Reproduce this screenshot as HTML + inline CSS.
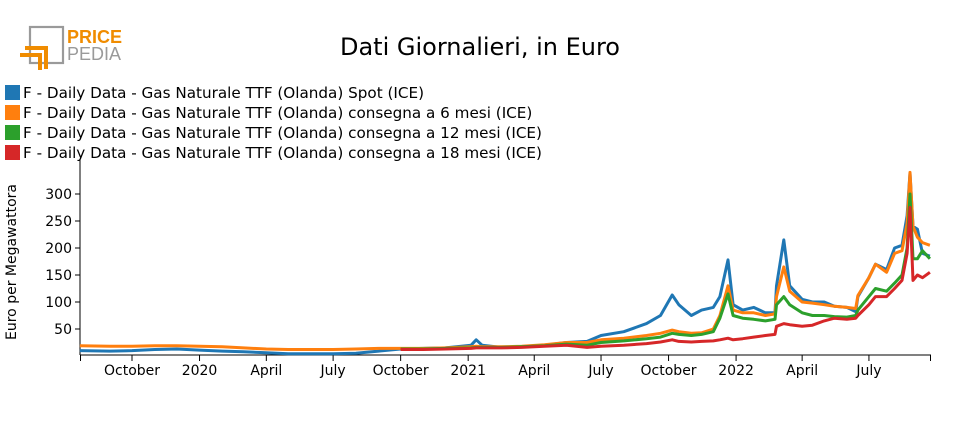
<!DOCTYPE html>
<html><head><meta charset="utf-8">
<style>
body{margin:0;background:#fff;width:960px;height:430px;overflow:hidden;font-family:"DejaVu Sans","Liberation Sans",sans-serif}
svg{display:block}
</style></head><body>
<svg id="chart" width="960" height="430">
<g>
<rect x="30" y="27" width="33" height="36" fill="none" stroke="#9a9a9a" stroke-width="2.2"/>
<path d="M25 48 H46 V69" fill="none" stroke="#f08c00" stroke-width="4"/>
<path d="M20 55 H40 V70" fill="none" stroke="#f08c00" stroke-width="4"/>
<text x="67" y="43" font-size="18" font-weight="bold" fill="#f08c00" font-family="Liberation Sans, sans-serif">PRICE</text>
<text x="67" y="60" font-size="18" fill="#9a9a9a" font-family="Liberation Sans, sans-serif">PEDIA</text>
</g>
<text x="480" y="55" font-size="24" text-anchor="middle" fill="#000">Dati Giornalieri, in Euro</text>
<g id="legend"></g>
<text transform="translate(16,262) rotate(-90)" font-size="14" text-anchor="middle">Euro per Megawattora</text>
<g id="axes"></g>
<g id="lines"></g>
</svg>
<script>
const seriesNames=["F - Daily Data - Gas Naturale TTF (Olanda) Spot (ICE)","F - Daily Data - Gas Naturale TTF (Olanda) consegna a 6 mesi (ICE)","F - Daily Data - Gas Naturale TTF (Olanda) consegna a 12 mesi (ICE)","F - Daily Data - Gas Naturale TTF (Olanda) consegna a 18 mesi (ICE)"];
const colors=["#1f77b4","#ff7f0e","#2ca02c","#d62728"];
const dates=["2019-07-22","2019-09-01","2019-10-01","2019-11-01","2019-12-01","2020-01-01","2020-02-01","2020-03-01","2020-04-01","2020-05-01","2020-06-01","2020-07-01","2020-08-01","2020-09-01","2020-10-01","2020-11-01","2020-12-01","2021-01-05","2021-01-12","2021-01-20","2021-02-15","2021-03-15","2021-04-15","2021-05-15","2021-06-12","2021-07-01","2021-08-01","2021-09-01","2021-09-20","2021-10-06","2021-10-15","2021-11-01","2021-11-15","2021-12-01","2021-12-10","2021-12-21","2021-12-28","2022-01-10","2022-01-25","2022-02-10","2022-02-23","2022-02-25","2022-03-07","2022-03-15","2022-04-01","2022-04-15","2022-05-01","2022-05-15","2022-06-01","2022-06-13","2022-06-16","2022-07-01","2022-07-10","2022-07-25","2022-08-05","2022-08-15","2022-08-22","2022-08-26","2022-08-30","2022-09-05","2022-09-12","2022-09-22"];
const spot=[10,9,10,12,13,11,9,8,6,4,4,4,5,9,13,14,15,20,30,20,16,17,20,25,27,38,45,60,75,113,95,75,85,90,110,178,95,85,90,80,80,130,215,130,105,100,100,92,90,82,110,145,170,160,200,205,260,339,240,235,190,185];
const m6=[19,18,18,19,19,18,17,15,13,12,12,12,13,14,14,14,15,17,18,17,17,18,21,25,25,30,33,38,42,48,45,42,43,50,75,130,85,80,80,75,78,110,165,120,100,98,95,92,90,88,112,145,170,155,190,195,245,340,240,220,210,205];
const m12=[null,null,null,null,null,null,null,null,null,null,null,null,null,null,13,13,14,15,16,16,16,17,19,22,20,25,28,32,35,42,40,38,40,45,70,115,75,70,68,65,68,95,110,95,80,75,75,73,72,75,85,110,125,120,135,150,200,300,180,180,195,180];
const m18=[null,null,null,null,null,null,null,null,null,null,null,null,null,null,12,12,13,14,15,15,15,16,18,20,16,18,20,23,26,30,27,26,27,28,30,33,30,32,35,38,40,55,60,58,55,57,65,70,68,70,75,95,110,110,125,140,190,275,140,150,145,155];
const yTicks=[50,100,150,200,250,300];
const xTickDates=["2019-10-01","2020-01-01","2020-04-01","2020-07-01","2020-10-01","2021-01-01","2021-04-01","2021-07-01","2021-10-01","2022-01-01","2022-04-01","2022-07-01"];
const xTickLabels=["October","2020","April","July","October","2021","April","July","October","2022","April","July"];

const NS="http://www.w3.org/2000/svg";
const t0=Date.parse("2019-10-01");
function xScale(d){return 132+(Date.parse(d)-t0)/86400000*0.734;}
function yScale(v){return 356-v*0.54;}
function mk(tag,attrs,parent){const e=document.createElementNS(NS,tag);for(const k in attrs)e.setAttribute(k,attrs[k]);parent.appendChild(e);return e;}

const axes=document.getElementById('axes');
const xl=mk('line',{x1:80,x2:931,y1:355,y2:355,stroke:'#000','stroke-width':1},axes);


const yl=mk('line',{x1:80,x2:80,y1:160,y2:355,stroke:'#000','stroke-width':1},axes);


yTicks.forEach(v=>{
  const y=yScale(v);
  mk('line',{x1:75,x2:80,y1:y,y2:y,stroke:'#000'},axes);
  const t=mk('text',{x:72,y:y+5,'font-size':14,'text-anchor':'end'},axes);
  t.textContent=v;
  
  
});
[80.5,930.5].forEach(x=>mk('line',{x1:x,x2:x,y1:355,y2:361,stroke:'#000'},axes));
xTickDates.forEach((d,i)=>{
  const x=xScale(d);
  mk('line',{x1:x,x2:x,y1:355,y2:361,stroke:'#000'},axes);
  const t=mk('text',{x:x,y:375,'font-size':14,'text-anchor':'middle'},axes);
  t.textContent=xTickLabels[i];
  
  
});

const lines=document.getElementById('lines');
[spot,m6,m12,m18].forEach((vals,si)=>{
  let d="";let pen=false;
  vals.forEach((v,i)=>{
    if(v===null){pen=false;return;}
    d+=(pen?"L":"M")+xScale(dates[i]).toFixed(1)+" "+yScale(v).toFixed(1)+" ";pen=true;
  });
  const p=mk('path',{d:d,fill:'none',stroke:colors[si],'stroke-width':3,'stroke-linejoin':'round'},lines);
  
  
});

const legend=document.getElementById('legend');
seriesNames.forEach((n,i)=>{
  const y=85+i*20;
  const r=mk('rect',{x:5,y:y,width:15,height:15,fill:colors[i]},legend);
  
  
  const t=mk('text',{x:23,y:y+13,'font-size':15.2},legend);
  t.textContent=n;
  
  
});
</script>
</body></html>
